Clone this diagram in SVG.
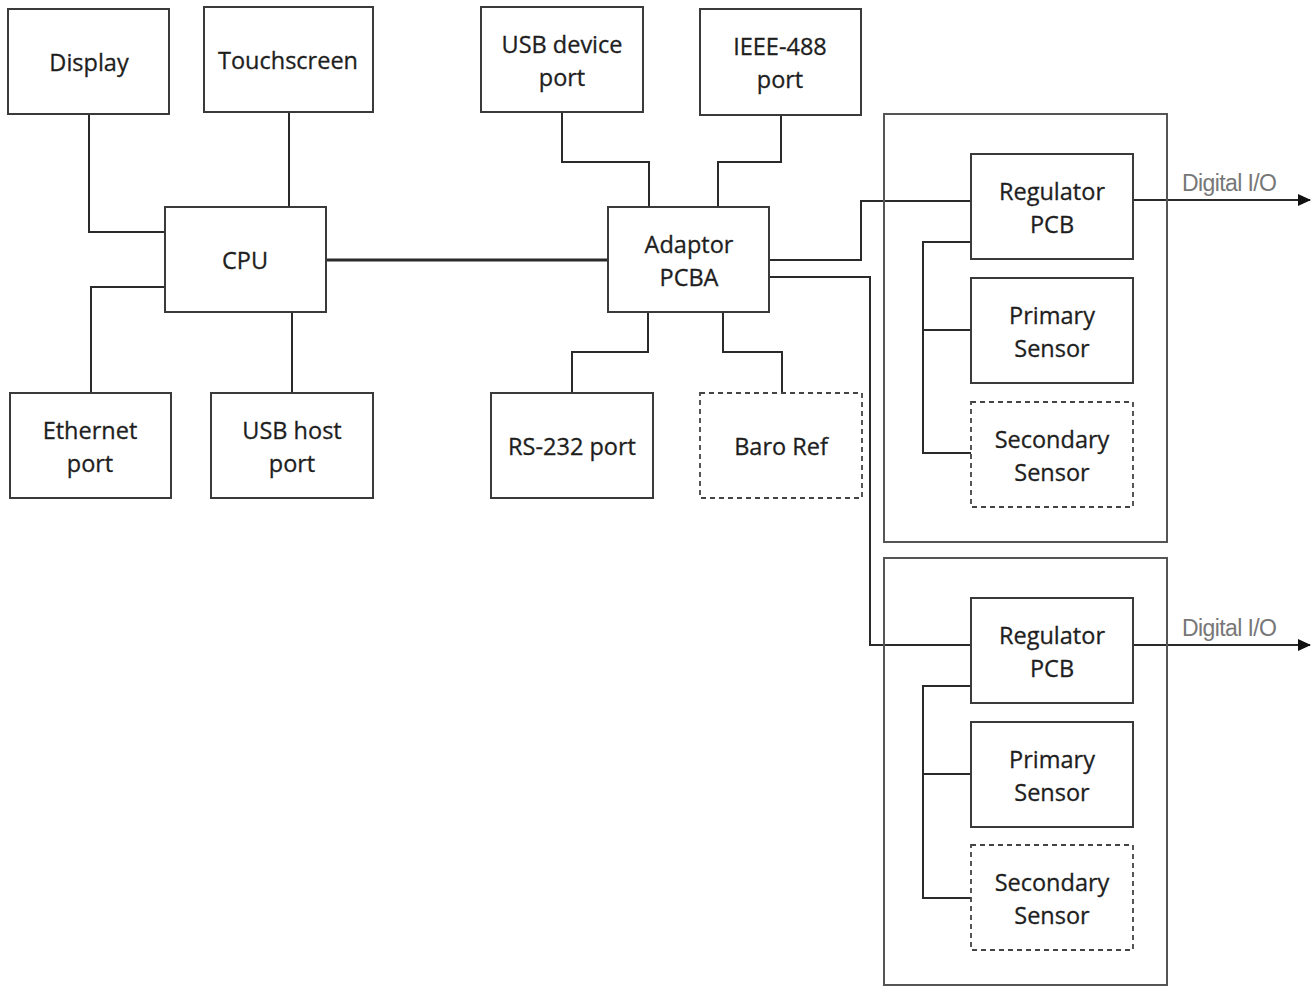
<svg xmlns="http://www.w3.org/2000/svg" width="1315" height="987" viewBox="0 0 1315 987">
<style>
.box{fill:#fff;stroke:#3a3a3a;stroke-width:2}
.dash{fill:#fff;stroke:#444;stroke-width:1.8;stroke-dasharray:5 4}
.outer{fill:none;stroke:#555;stroke-width:2}
.t{font-family:"Open Sans","Liberation Sans",sans-serif;font-size:23.5px;fill:#1e1e1e;text-anchor:middle;dominant-baseline:central;stroke:#1e1e1e;stroke-width:0.3}
.c{fill:none;stroke:#2a2a2a;stroke-width:2}
.io{font-family:"Liberation Sans","Open Sans",sans-serif;font-size:23px;fill:#777;letter-spacing:-0.6px}
</style>
<defs>
<marker id="arr" markerWidth="13" markerHeight="12" refX="12" refY="6" orient="auto" markerUnits="userSpaceOnUse">
<path d="M0,0 L13,6 L0,12 z" fill="#111"/>
</marker>
</defs>
<rect width="1315" height="987" fill="#fff"/>

<g id="connectors">
<path class="c" d="M89,114 V232 H165"/>
<path class="c" d="M289,112 V207"/>
<path class="c" d="M165,287 H91 V393"/>
<path class="c" d="M292,312 V393"/>
<path class="c" d="M326,260 H608" style="stroke-width:3"/>
<path class="c" d="M562,112 V162 H649 V207"/>
<path class="c" d="M781,115 V162 H718 V207"/>
<path class="c" d="M648,312 V352 H572 V393"/>
<path class="c" d="M723,312 V352 H782 V393"/>
<path class="c" d="M769,260 H861 V201 H971"/>
<path class="c" d="M769,277 H870 V645 H971"/>
<path class="c" d="M971,242 H923 V453 H971 M923,330 H971"/>
<path class="c" d="M971,686 H923 V898 H971 M923,774 H971"/>
<path class="c" d="M1133,200 H1310" marker-end="url(#arr)"/>
<path class="c" d="M1133,645 H1310" marker-end="url(#arr)"/>
<text class="io" x="1182" y="191">Digital I/O</text>
<text class="io" x="1182" y="636">Digital I/O</text>
</g>

<g id="display"><rect class="box" x="8" y="9" width="161" height="105"/><text class="t" x="89" y="62">Display</text></g>
<g id="touchscreen"><rect class="box" x="204" y="7" width="169" height="105"/><text class="t" x="288" y="60">Touchscreen</text></g>
<g id="cpu"><rect class="box" x="165" y="207" width="161" height="105"/><text class="t" x="245" y="260">CPU</text></g>
<g id="ethernet"><rect class="box" x="10" y="393" width="161" height="105"/><text class="t" x="90" y="430">Ethernet</text><text class="t" x="90" y="463">port</text></g>
<g id="usbhost"><rect class="box" x="211" y="393" width="162" height="105"/><text class="t" x="292" y="430">USB host</text><text class="t" x="292" y="463">port</text></g>
<g id="usbdevice"><rect class="box" x="481" y="7" width="162" height="105"/><text class="t" x="562" y="44">USB device</text><text class="t" x="562" y="77">port</text></g>
<g id="ieee488"><rect class="box" x="700" y="9" width="161" height="106"/><text class="t" x="780" y="46">IEEE-488</text><text class="t" x="780" y="79">port</text></g>
<g id="adaptor"><rect class="box" x="608" y="207" width="161" height="105"/><text class="t" x="689" y="244">Adaptor</text><text class="t" x="689" y="277">PCBA</text></g>
<g id="rs232"><rect class="box" x="491" y="393" width="162" height="105"/><text class="t" x="572" y="446">RS-232 port</text></g>
<g id="baroref"><rect class="dash" x="700" y="393" width="162" height="105"/><text class="t" x="781" y="446">Baro Ref</text></g>

<g id="module1">
<rect class="outer" x="884" y="114" width="283" height="428"/>
</g>
<g id="regulator1"><rect class="box" x="971" y="154" width="162" height="105"/><text class="t" x="1052" y="191">Regulator</text><text class="t" x="1052" y="224">PCB</text></g>
<g id="primary1"><rect class="box" x="971" y="278" width="162" height="105"/><text class="t" x="1052" y="315">Primary</text><text class="t" x="1052" y="348">Sensor</text></g>
<g id="secondary1"><rect class="dash" x="971" y="402" width="162" height="105"/><text class="t" x="1052" y="439">Secondary</text><text class="t" x="1052" y="472">Sensor</text></g>

<g id="module2">
<rect class="outer" x="884" y="558" width="283" height="427"/>
</g>
<g id="regulator2"><rect class="box" x="971" y="598" width="162" height="105"/><text class="t" x="1052" y="635">Regulator</text><text class="t" x="1052" y="668">PCB</text></g>
<g id="primary2"><rect class="box" x="971" y="722" width="162" height="105"/><text class="t" x="1052" y="759">Primary</text><text class="t" x="1052" y="792">Sensor</text></g>
<g id="secondary2"><rect class="dash" x="971" y="845" width="162" height="105"/><text class="t" x="1052" y="882">Secondary</text><text class="t" x="1052" y="915">Sensor</text></g>
</svg>
